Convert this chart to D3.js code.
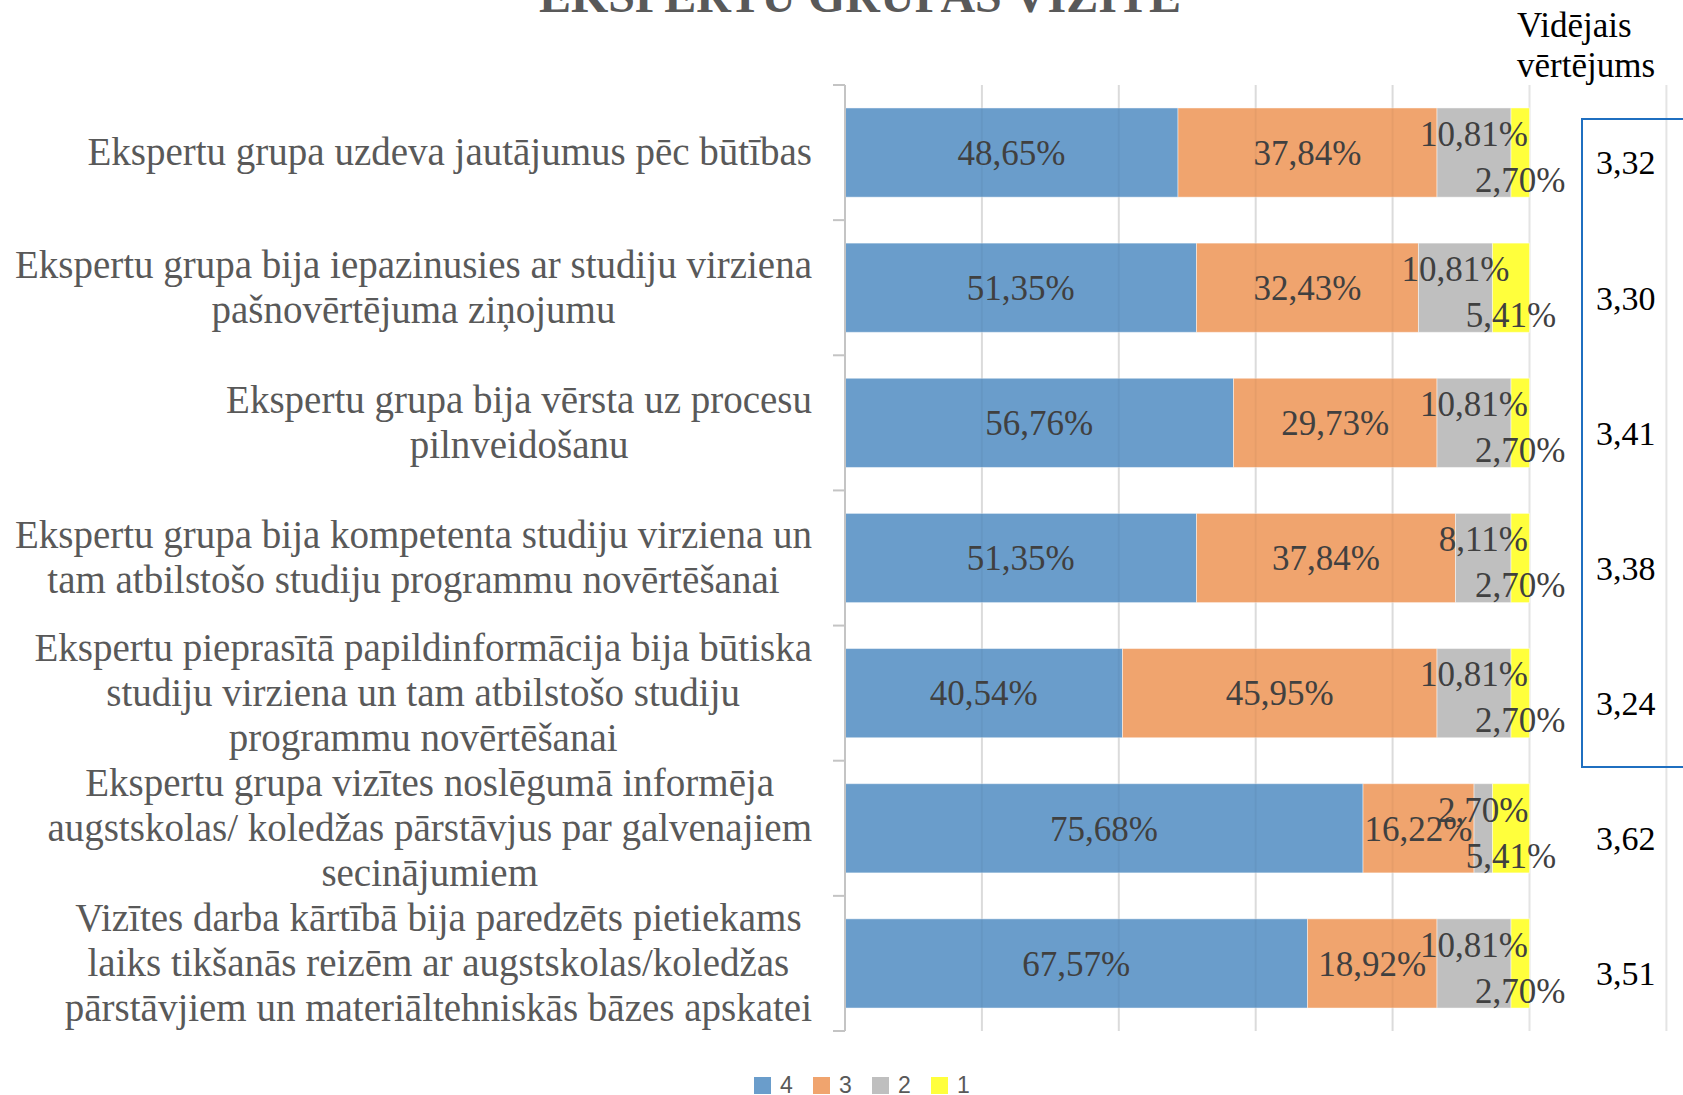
<!DOCTYPE html>
<html>
<head>
<meta charset="utf-8">
<script src="https://cdn.jsdelivr.net/npm/d3@7"></script>
<style>
	html, body { margin: 0; padding: 0; background: #fff; }
	svg { display: block; }
</style>
</head>
<body>
<div id="container"></div>
<script>
"use strict";

// categories, each label already split in the lines shown in the chart
const categories = [
	["Ekspertu grupa uzdeva jautājumus pēc būtības"],
	["Ekspertu grupa bija iepazinusies ar studiju virziena", "pašnovērtējuma ziņojumu"],
	["Ekspertu grupa bija vērsta uz procesu", "pilnveidošanu"],
	["Ekspertu grupa bija kompetenta studiju virziena un", "tam atbilstošo studiju programmu novērtēšanai"],
	["Ekspertu pieprasītā papildinformācija bija būtiska", "studiju virziena un tam atbilstošo studiju", "programmu novērtēšanai"],
	["Ekspertu grupa vizītes noslēgumā informēja", "augstskolas/ koledžas pārstāvjus par galvenajiem", "secinājumiem"],
	["Vizītes darba kārtībā  bija paredzēts pietiekams", "laiks tikšanās reizēm ar augstskolas/koledžas", "pārstāvjiem un materiāltehniskās bāzes apskatei"],
];

// series (percent of answers per rating)
const seriesNames = ["4", "3", "2", "1"];
const rating4 = [48.65, 51.35, 56.76, 51.35, 40.54, 75.68, 67.57];
const rating3 = [37.84, 32.43, 29.73, 37.84, 45.95, 16.22, 18.92];
const rating2 = [10.81, 10.81, 10.81, 8.11, 10.81, 2.70, 10.81];
const rating1 = [2.70, 5.41, 2.70, 2.70, 2.70, 5.41, 2.70];

// average score per row
const averages = ["3,32", "3,30", "3,41", "3,38", "3,24", "3,62", "3,51"];

const xTicks = [0, 20, 40, 60, 80, 100, 120];

const colors = ["#6a9dcb", "#f0a46e", "#bfbfbf", "#ffff3c"];

const W = 1683, H = 1095;
const serif = "'Liberation Serif', 'Times New Roman', serif";

const svg = d3.select("#container")
	.append("svg")
	.attr("width", W)
	.attr("height", H);

// scales
const y = d3.scaleBand()
	.domain(d3.range(categories.length))
	.range([85, 1031])
	.paddingInner(0.34)
	.paddingOuter(0.17);

const x = d3.scaleLinear()
	.domain([0, 100])
	.range([845, 1529.5]);

// stacked data
const rows = categories.map((c, i) => ({
	i: i,
	"4": rating4[i], "3": rating3[i], "2": rating2[i], "1": rating1[i],
}));
const stacked = d3.stack().keys(seriesNames)(rows);

// title (cut off by the top edge, as in the original)
svg.append("text")
	.attr("x", 860)
	.attr("y", 12)
	.attr("text-anchor", "middle")
	.attr("font-family", serif)
	.attr("font-weight", "bold")
	.attr("font-size", 48)
	.attr("fill", "#595959")
	.text("EKSPERTU GRUPAS VIZĪTE");

// gridlines
svg.append("g")
	.selectAll("line")
	.data(xTicks.slice(1))
	.enter()
	.append("line")
	.attr("x1", (d) => x(d))
	.attr("x2", (d) => x(d))
	.attr("y1", y.range()[0])
	.attr("y2", y.range()[1])
	.attr("stroke", "#e4e4e4")
	.attr("stroke-width", 2);

// bars
const layers = svg.append("g")
	.selectAll("g")
	.data(stacked)
	.enter()
	.append("g")
	.attr("fill", (d, k) => colors[k]);

layers.selectAll("rect")
	.data((d) => d)
	.enter()
	.append("rect")
	.attr("x", (d) => x(d[0]))
	.attr("width", (d) => x(d[1]) - x(d[0]))
	.attr("y", (d) => y(d.data.i))
	.attr("height", y.bandwidth())
	.attr("stroke", "#ffffff")
	.attr("stroke-opacity", 0.45)
	.attr("stroke-width", 1);

// faint gridlines showing through the bars
svg.append("g")
	.selectAll("line")
	.data(xTicks.slice(1, 5))
	.enter()
	.append("line")
	.attr("x1", (d) => x(d))
	.attr("x2", (d) => x(d))
	.attr("y1", y.range()[0])
	.attr("y2", y.range()[1])
	.attr("stroke", "#000")
	.attr("stroke-opacity", 0.04)
	.attr("stroke-width", 2);

// category axis
const axisG = svg.append("g").attr("stroke", "#c4c4c4").attr("stroke-width", 2);
axisG.append("line")
	.attr("x1", 845).attr("x2", 845)
	.attr("y1", y.range()[0]).attr("y2", y.range()[1]);
axisG.selectAll(".tick")
	.data(d3.range(categories.length + 1))
	.enter()
	.append("line")
	.attr("x1", 833).attr("x2", 845)
	.attr("y1", (d) => y.range()[0] + d * y.step())
	.attr("y2", (d) => y.range()[0] + d * y.step());

// category labels: centred lines, block right-aligned to the axis
const lineH = 44.8;
const labelRight = 812;
categories.forEach(function (lines, i) {
	const g = svg.append("g");
	const cy = y(i) + y.bandwidth() / 2;
	const t = g.selectAll("text")
		.data(lines)
		.enter()
		.append("text")
		.attr("font-family", serif)
		.attr("font-size", 39)
		.attr("fill", "#595959")
		.attr("text-anchor", "middle")
		.attr("y", (d, j) => cy + (j - (lines.length - 1) / 2) * lineH)
		.attr("dy", "0.33em")
		.text((d) => d);
	let maxW = 0;
	t.each(function () {
		maxW = Math.max(maxW, this.getComputedTextLength());
	});
	t.attr("x", labelRight - maxW / 2);
});

// value labels (grey ones nudged up, yellow ones nudged down)
const labelShift = [0, 0, -19, 27];
const fmt = (v) => v.toFixed(2).replace(".", ",") + "%";
stacked.forEach(function (layer, k) {
	svg.append("g")
		.selectAll("text")
		.data(layer)
		.enter()
		.append("text")
		.attr("x", (d) => x((d[0] + d[1]) / 2))
		.attr("y", (d) => y(d.data.i) + y.bandwidth() / 2 + labelShift[k])
		.attr("dy", "0.35em")
		.attr("text-anchor", "middle")
		.attr("font-family", serif)
		.attr("font-size", 35)
		.attr("fill", "#404040")
		.text((d) => fmt(d[1] - d[0]));
});

// average column
svg.append("rect")
	.attr("x", 1582)
	.attr("y", 119)
	.attr("width", 140)
	.attr("height", 648)
	.attr("fill", "none")
	.attr("stroke", "#1f6fc0")
	.attr("stroke-width", 2);

svg.append("g")
	.selectAll("text")
	.data(["Vidējais", "vērtējums"])
	.enter()
	.append("text")
	.attr("x", 1517)
	.attr("y", (d, j) => 25 + j * 40)
	.attr("dy", "0.35em")
	.attr("font-family", serif)
	.attr("font-size", 35)
	.attr("fill", "#000")
	.text((d) => d);

svg.append("g")
	.selectAll("text")
	.data(averages)
	.enter()
	.append("text")
	.attr("x", 1596)
	.attr("y", (d, i) => y(i) + y.bandwidth() / 2 + 10)
	.attr("dy", "0.35em")
	.attr("font-family", serif)
	.attr("font-size", 34)
	.attr("fill", "#000")
	.text((d) => d);

// legend
const legend = svg.append("g")
	.selectAll("g")
	.data(seriesNames)
	.enter()
	.append("g")
	.attr("transform", (d, k) => `translate(${754 + k * 59},1077)`);
legend.append("rect")
	.attr("width", 17)
	.attr("height", 17)
	.attr("fill", (d, k) => colors[k]);
legend.append("text")
	.attr("x", 26)
	.attr("y", 16)
	.attr("font-family", "'Liberation Sans', Arial, sans-serif")
	.attr("font-size", 23)
	.attr("fill", "#595959")
	.text((d) => d);
</script>
</body>
</html>
